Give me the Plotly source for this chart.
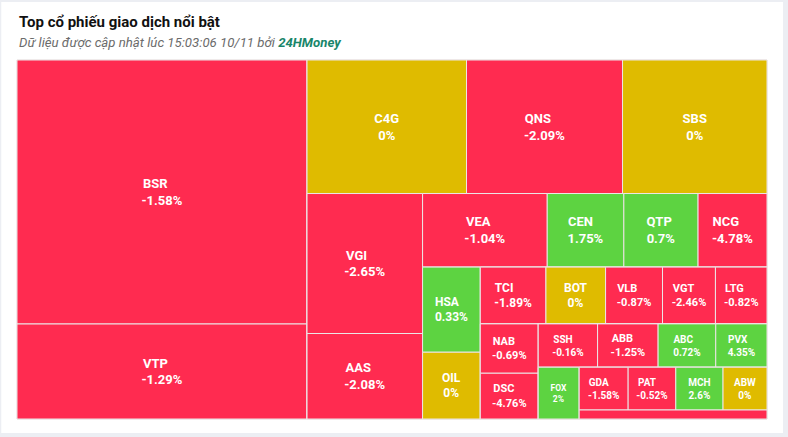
import plotly.graph_objects as go

# ---- data ----
tickers = ["BSR", "VTP", "C4G", "QNS", "SBS", "VGI", "AAS", "VEA", "CEN", "QTP",
           "NCG", "HSA", "OIL", "TCI", "BOT", "VLB", "VGT", "LTG", "NAB", "DSC",
           "SSH", "ABB", "ABC", "PVX", "FOX", "GDA", "PAT", "MCH", "ABW", "KHAC"]
changes = [-1.58, -1.29, 0, -2.09, 0, -2.65, -2.08, -1.04, 1.75, 0.7,
           -4.78, 0.33, 0, -1.89, 0, -0.87, -2.46, -0.82, -0.69, -4.76,
           -0.16, -1.25, 0.72, 4.35, 2, -1.58, -0.52, 2.6, 0, -1.0]
change_labels = ["-1.58%", "-1.29%", "0%", "-2.09%", "0%", "-2.65%", "-2.08%", "-1.04%", "1.75%", "0.7%",
                 "-4.78%", "0.33%", "0%", "-1.89%", "0%", "-0.87%", "-2.46%", "-0.82%", "-0.69%", "-4.76%",
                 "-0.16%", "-1.25%", "0.72%", "4.35%", "2%", "-1.58%", "-0.52%", "2.6%", "0%", ""]
# trading value (relative, estimated from tile areas)
volumes = [76560, 27550, 21290, 20830, 19290, 16170, 9875, 9173, 5637, 5461,
           5072, 4913, 3855, 3725, 3385, 3232, 3005, 2926, 2859, 2651,
           2572, 2624, 2498, 2221, 2120, 2092, 2037, 2020, 1879, 1692]
show_label = [True] * 29 + [False]

# ---- layout structure: alternating strips (as in the source's squarified layout) ----
bands = [["BSR", "VTP"], ["C4G", "QNS", "SBS"], ["VGI", "AAS"], ["VEA", "CEN", "QTP", "NCG"],
         ["HSA", "OIL"], ["TCI", "BOT", "VLB", "VGT", "LTG"], ["NAB", "DSC"],
         ["SSH", "ABB", "ABC", "PVX"], ["FOX"], ["GDA", "PAT", "MCH", "ABW"], ["KHAC"]]

RED, YELLOW, GREEN = "#ff2b50", "#dfbb00", "#5dd341"


def color_for(c):
    return GREEN if c > 0 else (RED if c < 0 else YELLOW)


def size_for(v):
    if v >= 5000:
        return 13
    if v >= 3300:
        return 12
    if v >= 2600:
        return 11
    if v >= 2150:
        return 10
    if v >= 2100:
        return 8.5
    return 10


W = {"A": .66, "B": .63, "C": .65, "D": .63, "E": .55, "F": .54, "G": .68, "H": .71,
     "I": .28, "L": .54, "M": .87, "N": .71, "O": .69, "P": .64, "Q": .69, "R": .62,
     "S": .61, "T": .61, "V": .65, "W": .89, "X": .63, "K": .63, "-": .28, ".": .27, "%": .73}


def tw(s):
    return sum(W.get(ch, .56) for ch in s)


def label_text(name, chg):
    a, b = tw(name), tw(chg)
    pad = "\u00a0" * max(0, round((b - a) / 0.25))
    return f"<b>{name}{pad}</b><br><b>{chg}</b>"


info = {t: i for i, t in enumerate(tickers)}
ids, labels, parents, values, colors, texts, sizes = [], [], [], [], [], [], []


def add(i_, lab, par, val, col, txt, sz):
    ids.append(i_); labels.append(lab); parents.append(par); values.append(val)
    colors.append(col); texts.append(txt); sizes.append(sz)


add("C0", "", "", 0, RED, "", 10)
nb = len(bands)
for k, band in enumerate(bands):
    cont = f"C{k}"
    if k < nb - 1:
        bnode = f"B{k}"
        add(bnode, "", cont, 0, RED, "", 10)
        for t in band:
            i = info[t]
            add(t, t, bnode, volumes[i], color_for(changes[i]),
                label_text(t, change_labels[i]) if show_label[i] else "", size_for(volumes[i]))
        add(f"C{k+1}", "", cont, 0, RED, "", 10)
    else:
        for t in band:
            i = info[t]
            add(t, t, cont, volumes[i], color_for(changes[i]),
                label_text(t, change_labels[i]) if show_label[i] else "", size_for(volumes[i]))

fig = go.Figure(go.Treemap(
    ids=ids, labels=labels, parents=parents, values=values,
    branchvalues="remainder", sort=False,
    text=texts, textinfo="text", textposition="middle center",
    textfont=dict(family="Roboto, Arial, sans-serif", color="white", size=sizes),
    insidetextfont=dict(family="Roboto, Arial, sans-serif", color="white", size=sizes),
    marker=dict(colors=colors, line=dict(color="#ece6e6", width=1),
                pad=dict(t=0, l=0, r=0, b=0), depthfade=False),
    tiling=dict(packing="slice-dice", pad=0),
    pathbar=dict(visible=False),
    hoverinfo="skip",
))

fig.update_layout(
    width=788, height=437,
    margin=dict(l=17, r=21, t=60, b=18),
    paper_bgcolor="#eceef3",
    plot_bgcolor="white",
    showlegend=False,
    shapes=[dict(type="rect", xref="paper", yref="paper", layer="below",
                 x0=-0.021, x1=1.0213, y0=-0.039, y1=1.1615,
                 fillcolor="white", line=dict(width=0))],
    annotations=[
        dict(text="<b>Top cổ phiếu giao dịch nổi bật</b>", xref="paper", yref="paper",
             x=0, y=1.1058, xanchor="left", yanchor="middle", showarrow=False,
             font=dict(family="Roboto, Arial, sans-serif", size=15, color="#111111")),
        dict(text="<i>Dữ liệu được cập nhật lúc 15:03:06 10/11 bởi </i>"
                  "<i><b><span style='color:#18866a'>24HMoney</span></b></i>",
             xref="paper", yref="paper", x=0, y=1.0487, xanchor="left", yanchor="middle",
             showarrow=False,
             font=dict(family="Roboto, Arial, sans-serif", size=13.2, color="#6b6b6b")),
    ],
)

fig.write_html("out.html",
               config={"displayModeBar": False},
               post_script="document.body.style.margin='0';document.body.style.overflow='hidden';")
